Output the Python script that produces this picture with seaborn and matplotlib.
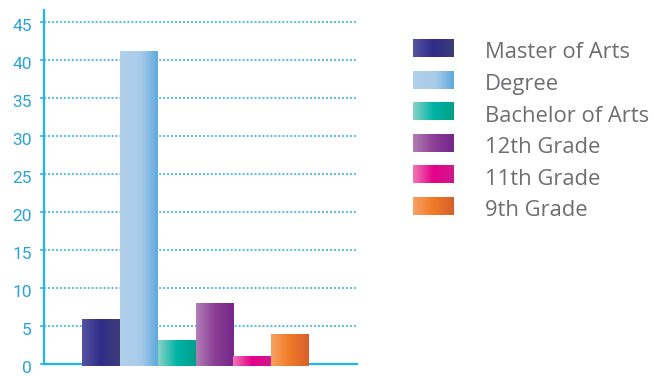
import numpy as np
import pandas as pd
import seaborn as sns
import matplotlib.pyplot as plt
import matplotlib.transforms as mtransforms
from matplotlib.colors import LinearSegmentedColormap

# Education levels and their counts
categories = ["Master of Arts", "Degree", "Bachelor of Arts",
              "12th Grade", "11th Grade", "9th Grade"]
values = [5.9, 41.2, 3.2, 8.0, 1.0, 4.0]
y_ticks = [0, 5, 10, 15, 20, 25, 30, 35, 40, 45]

# Horizontal gradient stops (left, middle, right) per category
gradients = [
    ["#5753a1", "#2e2c88", "#403c79"],
    ["#b1d1ec", "#a9cbea", "#5ea9dd"],
    ["#8ad3c5", "#00b4a6", "#009f8a"],
    ["#b17db7", "#8c3f95", "#74268a"],
    ["#f176b3", "#e4008a", "#cf1a8d"],
    ["#f7a262", "#f07a26", "#d65f2c"],
]
stop_pos = [[0, 0.5, 1], [0, 0.55, 1], [0, 0.5, 1],
            [0, 0.5, 1], [0, 0.5, 1], [0, 0.5, 1]]

AXIS_BLUE = "#1ab8ee"
GRID_BLUE = "#29abe2"
TICK_BLUE = "#2aa3dc"
LEGEND_GREY = "#6d6e71"

sns.set_theme(style="white")
plt.rcParams["font.family"] = ["Roboto", "DejaVu Sans"]

fig = plt.figure(figsize=(6.54, 3.76), dpi=100)
ax = fig.add_axes([0.0677, 0.0306, 0.4783, 0.9428])

df = pd.DataFrame({"level": categories, "count": values})
mid_colors = [g[1] for g in gradients]
sns.barplot(data=df, x="level", y="count", hue="level", order=categories,
            hue_order=categories, palette=mid_colors, width=1.0,
            dodge=False, legend=False, saturation=1, ax=ax)

cmaps = [LinearSegmentedColormap.from_list(f"g{i}", list(zip(p, g)))
         for i, (g, p) in enumerate(zip(gradients, stop_pos))]

# Paint each bar with its horizontal gradient, clipped to the bar shape;
# bars sit slightly over the baseline
grad = np.linspace(0, 1, 256).reshape(1, -1)
bars = sorted([p for p in ax.patches if p.get_height() > 0], key=lambda p: p.get_x())
for patch, cmap in zip(bars, cmaps):
    x0, w, h = patch.get_x(), patch.get_width(), patch.get_height()
    patch.set_edgecolor("none")
    patch.set_y(-0.2)
    patch.set_height(h + 0.2)
    patch.set_zorder(3)
    img = ax.imshow(grad, cmap=cmap, aspect="auto", extent=[x0, x0 + w, -0.2, h],
                    zorder=3.1, interpolation="bicubic")
    img.set_clip_path(patch)
    img.set_clip_on(False)

ax.set_xlim(-1.5, 6.77)
ax.set_ylim(0, 46.6)
ax.set_xlabel("")
ax.set_ylabel("")
ax.set_xticks([])
ax.set_yticks(y_ticks)
ax.set_yticklabels([str(t) for t in y_ticks])

ax.grid(axis="y", color=GRID_BLUE, linestyle=(0, (1.3, 1.3)), linewidth=1.1)
ax.set_axisbelow(True)
ax.grid(axis="x", visible=False)

for side in ("top", "right"):
    ax.spines[side].set_visible(False)
for side in ("left", "bottom"):
    ax.spines[side].set_color(AXIS_BLUE)
    ax.spines[side].set_linewidth(1.6)
    ax.spines[side].set_zorder(2)

ax.tick_params(axis="y", length=3, width=1.1, color=GRID_BLUE, pad=6,
               labelsize=12.5, labelcolor=TICK_BLUE, left=True)
offset = mtransforms.ScaledTranslation(0, -3 / 100, fig.dpi_scale_trans)
for lbl in ax.get_yticklabels():
    lbl.set_transform(lbl.get_transform() + offset)

# Legend with gradient swatches
lax = fig.add_axes([0, 0, 1, 1], zorder=10)
lax.axis("off")
for i, (name, cmap) in enumerate(zip(categories, cmaps)):
    yc = 48.0 + i * 31.6
    lax.imshow(grad, cmap=cmap, aspect="auto", interpolation="bicubic",
               extent=[413, 454, yc + 9, yc - 9])
    lax.text(485, yc + 10.3, name, color=LEGEND_GREY, fontsize=15.8,
             family=["Open Sans", "DejaVu Sans"], va="baseline", ha="left")
lax.set_xlim(0, 654)
lax.set_ylim(376, 0)

fig.savefig("out.png", dpi=100)
